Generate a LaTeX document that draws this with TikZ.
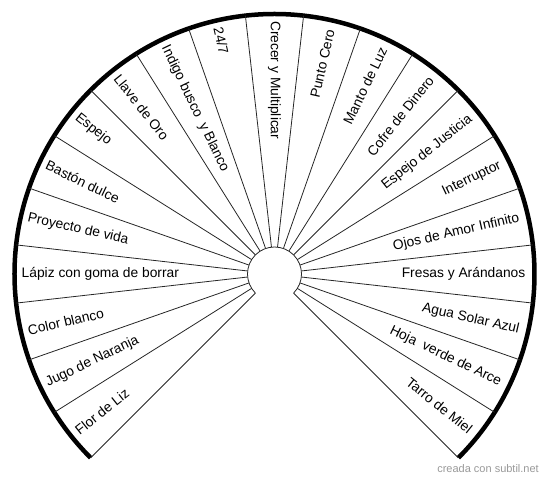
\documentclass[tikz,border=0pt]{standalone}
\usepackage{fontspec}
\setmainfont{Liberation Sans}
\begin{document}
\begin{tikzpicture}[x=1pt,y=1pt,
  spoke/.style={draw=black!85, line width=0.8pt},
  rim/.style={draw=black, line width=4.5pt},
  hub/.style={draw=black!85, line width=0.8pt},
  lblL/.style={anchor=west, inner sep=0pt, font=\fontsize{13.8}{16}\selectfont},
  lblR/.style={anchor=east, inner sep=0pt, font=\fontsize{13.8}{16}\selectfont},
  credit/.style={text=black!40, font=\fontsize{11}{13}\selectfont, inner sep=0pt, anchor=east}]
\useasboundingbox (-274.5,274) rectangle (275.5,-207);
\coordinate (O) at (0,0);
\draw[rim] (-45:260) arc[start angle=-45, end angle=225, radius=260];
\draw[hub] (-45:27) arc[start angle=-45, end angle=225, radius=27];
\foreach \k in {0,...,21} {
  \pgfmathsetmacro\a{225-\k*270/21}
  \draw[spoke] (\a:27) -- (\a:260);
}
\foreach \t [count=\i from 0] in {Flor de Liz, Jugo de Naranja, Color blanco, Lápiz con goma de borrar, Proyecto de vida, Bastón dulce, Espejo, Llave de Oro, Indigo busco\ \ y Blanco, 24/7, Crecer y Multiplicar, Punto Cero, Manto de Luz, Cofre de Dinero, Espejo de Justicia, Interruptor, Ojos de Amor Infinito, Fresas y Arándanos, Agua Solar Azul, Hoja\ \ verde de Arce, Tarro de Miel} {
  \pgfmathsetmacro\a{225-(\i+0.5)*270/21}
  \pgfmathsetmacro\b{\a-180}
  \ifnum\i<11
    \node[lblL, rotate=\b] (l\i) at (\a:253) {\t};
  \else
    \node[lblR, rotate=\a] (l\i) at (\a:251) {\t};
  \fi
}
\node[credit] (cr) at (264.5,-195) {creada con subtil.net};
\end{tikzpicture}
\end{document}
